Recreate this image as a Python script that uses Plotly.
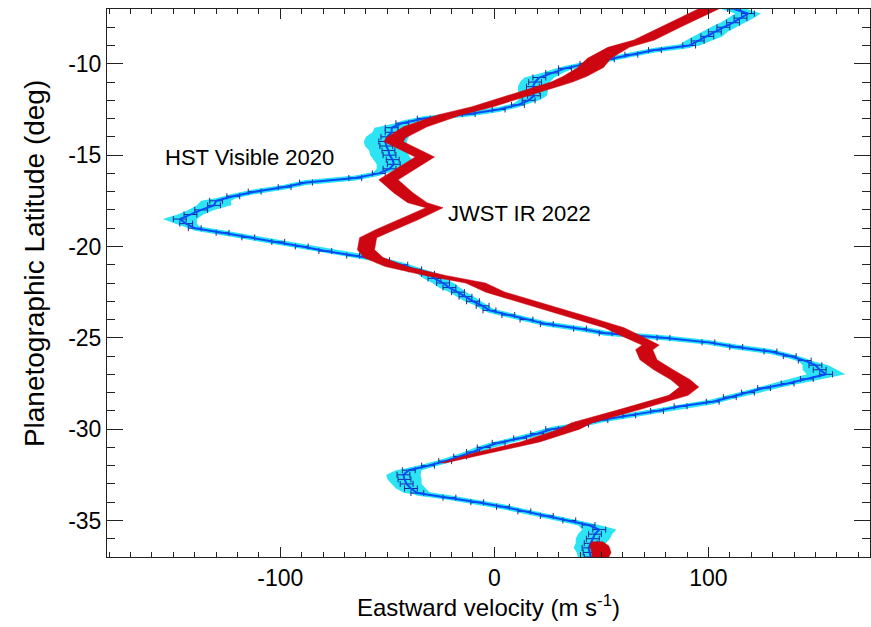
import plotly.graph_objects as go

# HST visible 2020 zonal wind profile
hst_lat = [
    -7.0, -7.25, -7.5, -7.75, -8.0, -8.25, -8.5, -8.75, -9.0, -9.25,
    -9.5, -9.75, -10.0, -10.25, -10.5, -10.75, -11.0, -11.25, -11.5, -11.75,
    -12.0, -12.25, -12.5, -12.75, -13.0, -13.25, -13.5, -13.75, -14.0, -14.25,
    -14.5, -14.75, -15.0, -15.25, -15.5, -15.75, -16.0, -16.25, -16.5, -16.75,
    -17.0, -17.25, -17.5, -17.75, -18.0, -18.25, -18.5, -18.75, -19.0, -19.25,
    -19.5, -19.75, -20.0, -20.25, -20.5, -20.75, -21.0, -21.25, -21.5, -21.75,
    -22.0, -22.25, -22.5, -22.75, -23.0, -23.25, -23.5, -23.75, -24.0, -24.25,
    -24.5, -24.75, -25.0, -25.25, -25.5, -25.75, -26.0, -26.25, -26.5, -26.75,
    -27.0, -27.25, -27.5, -27.75, -28.0, -28.25, -28.5, -28.75, -29.0, -29.25,
    -29.5, -29.75, -30.0, -30.25, -30.5, -30.75, -31.0, -31.25, -31.5, -31.75,
    -32.0, -32.25, -32.5, -32.75, -33.0, -33.25, -33.5, -33.75, -34.0, -34.25,
    -34.5, -34.75, -35.0, -35.25, -35.5, -35.75, -36.0, -36.25, -36.5, -36.75,
    -37.0,
]
hst_vel = [
    112, 118.5, 115, 111.5, 107, 103, 99.5, 95, 91, 75,
    64, 53, 43, 33, 27, 21, 19, 18, 18, 18.5,
    16, 11, 2, -12, -33, -43, -48, -48, -50, -51,
    -50.5, -49.5, -49, -47.5, -47, -49, -54, -65, -88, -98,
    -112, -122, -130, -131, -137, -142, -147, -144, -140, -127,
    -115, -101, -90, -79, -66, -52, -43.5, -37, -31, -28,
    -24, -21, -17, -13.5, -10, -5.5, -2.3, 6.5, 15, 24.5,
    40, 52, 79, 100, 113, 129, 138, 145, 150, 152,
    155, 146, 137, 126, 118.5, 110, 102, 87, 76, 63,
    50, 41, 27, 20, 12, 2, -5, -10, -16, -23,
    -31, -40, -42.5, -42, -41, -39, -36, -21, -8, 4,
    14, 24.5, 35, 44, 49, 47, 46, 45, 44, 44.5,
    45,
]
# scatter of the individual cloud-tracking measurements about the mean
hst_spread = [
    6, 6, 6, 6, 6, 6, 7, 6, 5, 3,
    3, 3, 3, 4, 5, 7, 7, 7, 7, 6,
    5, 3, 3, 3, 3, 3, 8, 9, 10, 10,
    10, 9, 9, 9, 8, 6, 3, 3, 3, 3,
    3, 3, 7, 8, 6, 6, 8, 5, 3, 3,
    3, 3, 3, 3, 3, 4, 4, 4, 5, 5,
    5, 5, 4, 4, 4, 3, 3, 3, 3, 3,
    3, 3, 3, 3, 3, 3, 3, 3, 6, 8,
    9, 8, 6, 4, 4, 4, 4, 4, 4, 4,
    4, 4, 4, 4, 4, 4, 4, 4, 4, 4,
    4, 6, 8, 8, 7, 7, 6, 4, 4, 4,
    4, 4, 4, 5, 8, 8, 8, 7, 7, 6,
    6,
]
hst_err = 3

# JWST IR 2022 profile: centre velocity and half-width of the uncertainty band
jwst_lat = [
    -7.0, -8.0, -8.7, -9.1, -9.7, -10.2, -10.7, -11.0, -11.5, -12.35,
    -12.8, -13.45, -14.05, -14.27, -15.1, -16.35, -17.06, -17.6, -17.88, -18.53,
    -19.08, -19.52, -20.18, -20.61, -21.1, -21.6, -22.0, -22.5, -23.1, -23.9,
    -24.45, -24.95, -25.4, -25.65, -26.2, -26.75, -27.3, -27.7, -28.15, -28.9,
    -29.65, -30.0, -30.7, -31.3, -31.85,
]
jwst_vel = [
    100, 82, 70, 58, 49, 45, 37.5, 31.5, 17.6, -5.5,
    -21, -37, -46, -47, -32.5, -49.5, -42.6, -36, -28, -40,
    -51, -59, -60, -56.5, -46, -27, -8.8, 0.5, 17.6, 40.7,
    56, 65, 73, 70, 72, 79, 87, 91, 86, 64,
    41, 35, 16.7, -5.5, -24,
]
jwst_hw = [
    4.8, 4.8, 4.8, 5, 5.5, 6, 5.5, 5, 5, 5,
    5.5, 5.5, 4.5, 4.5, 4.5, 4.5, 4.5, 4.5, 4, 4.5,
    4.5, 4, 4, 4.5, 5, 4.8, 4.6, 4.5, 4.6, 4.6,
    4.6, 4.5, 4, 4, 4, 4.5, 4.5, 4.5, 4.5, 4.8,
    4.8, 4.8, 4.5, 4, 1,
]
jwst_lat_s = [-36.15, -36.4, -36.75, -37.0]
jwst_vel_s = [48, 49, 50, 49.5]
jwst_hw_s = [2.5, 4.5, 4.5, 4]

x_tickvals = [-100, 0, 100]
x_ticktext = ["-100", "0", "100"]
y_tickvals = [-35, -30, -25, -20, -15, -10]
y_ticktext = ["-35", "-30", "-25", "-20", "-15", "-10"]

FONT = "Liberation Sans, Arial, Helvetica, sans-serif"
CYAN = "rgb(45,228,245)"
BLUE = "rgb(5,75,250)"
NAVY = "rgb(20,40,160)"
RED = "rgb(205,6,18)"


def band(lat, vel, hw):
    xs = [v - h for v, h in zip(vel, hw)] + [v + h for v, h in zip(vel, hw)][::-1]
    ys = list(lat) + list(lat)[::-1]
    return xs, ys


fig = go.Figure()

cx, cy = band(hst_lat, hst_vel, hst_spread)
fig.add_trace(go.Scatter(x=cx, y=cy, fill="toself", fillcolor=CYAN,
                         line=dict(width=0), mode="lines", hoverinfo="skip"))
fig.add_trace(go.Scatter(x=hst_vel, y=hst_lat, mode="lines",
                         line=dict(color=CYAN, width=5), hoverinfo="skip"))
fig.add_trace(go.Scatter(
    x=hst_vel, y=hst_lat, mode="lines", name="HST Visible 2020",
    line=dict(color=BLUE, width=2),
    error_x=dict(type="constant", value=hst_err, color=NAVY,
                 thickness=1, width=3),
))

rx, ry = band(jwst_lat, jwst_vel, jwst_hw)
fig.add_trace(go.Scatter(x=rx, y=ry, fill="toself", fillcolor=RED,
                         line=dict(width=0.5, color=RED), mode="lines",
                         name="JWST IR 2022"))
sx, sy = band(jwst_lat_s, jwst_vel_s, jwst_hw_s)
fig.add_trace(go.Scatter(x=sx, y=sy, fill="toself", fillcolor=RED,
                         line=dict(width=0.5, color=RED), mode="lines",
                         showlegend=False))

axis_common = dict(
    showline=True, linecolor="#222", linewidth=1, mirror="allticks",
    ticks="inside", tickcolor="#222", tickwidth=1,
    showgrid=False, zeroline=False, tickmode="array",
    tickfont=dict(family=FONT, size=23, color="black"),
)

fig.update_layout(
    width=871, height=627,
    margin=dict(l=107, r=1, t=9, b=70),
    plot_bgcolor="white", paper_bgcolor="white",
    showlegend=False,
    xaxis=dict(
        range=[-181, 175.5], tickvals=x_tickvals, ticktext=x_ticktext,
        ticklen=10,
        minor=dict(tickmode="linear", dtick=10, tick0=0, ticks="inside",
                   ticklen=5, tickcolor="#222", showgrid=False),
        title=dict(text="Eastward velocity (m s<sup>-1</sup>)",
                   font=dict(family=FONT, size=24, color="black"), standoff=4),
        **axis_common,
    ),
    yaxis=dict(
        range=[-37, -7], tickvals=y_tickvals, ticktext=y_ticktext,
        ticklen=16,
        minor=dict(tickmode="linear", dtick=1, tick0=0, ticks="inside",
                   ticklen=8, tickcolor="#222", showgrid=False),
        **axis_common,
    ),
    annotations=[
        dict(text="Planetographic Latitude (deg)", textangle=-90,
             xref="paper", yref="paper", x=-0.094, y=0.535,
             xanchor="center", yanchor="middle", showarrow=False,
             font=dict(family=FONT, size=28, color="black")),
        dict(text="HST Visible 2020", x=-114.4, y=-15.15, xref="x", yref="y",
             xanchor="center", yanchor="middle", showarrow=False,
             font=dict(family=FONT, size=22, color="black")),
        dict(text="JWST IR 2022", x=-22.4, y=-18.2, xref="x", yref="y",
             xanchor="left", yanchor="middle", showarrow=False,
             font=dict(family=FONT, size=22, color="black")),
    ],
)

fig.write_html("out.html")
